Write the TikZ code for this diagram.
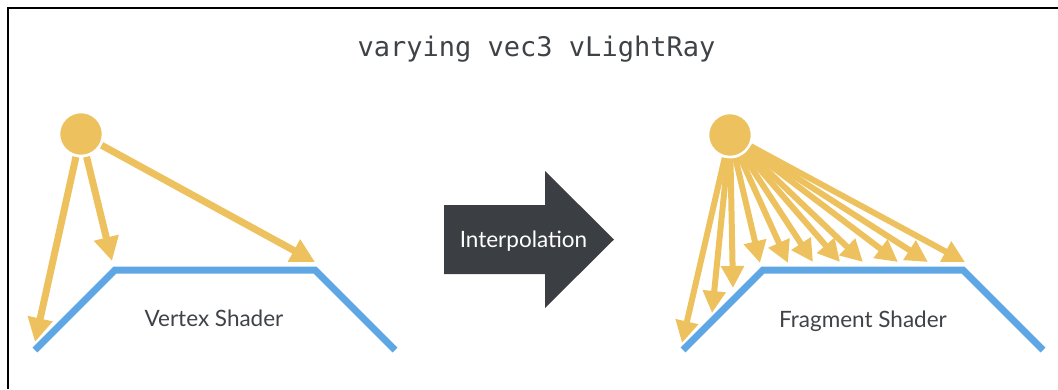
\documentclass[tikz,border=0pt]{standalone}
\usepackage{fontspec}
\setmainfont{Lato}
\setmonofont{DejaVu Sans Mono}
\usepackage{tikz}
\usetikzlibrary{arrows.meta}
\definecolor{sunyellow}{HTML}{EDC25E}
\definecolor{surfblue}{HTML}{5EA7E4}
\definecolor{darkslate}{HTML}{3B3F43}
\definecolor{textgray}{HTML}{3F4347}
\tikzset{
  sun/.style={
    circle, fill=sunyellow, draw=white, line width=2.5pt,
    minimum size=44pt, inner sep=0pt, outer sep=1.5pt,
  },
  ray/.style={-{Triangle[length=#1, width=#1]}, line width=7pt, color=sunyellow},
  ray/.default=24pt,
  surface/.style={line width=7pt, color=surfblue},
  lbl/.style={font=\fontsize{22.5}{27}\selectfont, text=textgray, anchor=base, inner sep=0pt},
  codelbl/.style={font=\ttfamily\fontsize{27}{32}\selectfont, text=textgray, anchor=base, inner sep=0pt},
  frame/.style={line width=2.5pt, color=black},
}
\begin{document}
\begin{tikzpicture}[x=1pt, y=-1pt]
  \useasboundingbox (0,0) rectangle (1058,389);

  % frame and title
  \draw[frame] (8,389) -- (8,8) -- (1058,8);
  \node[codelbl] (varname) at (536.5,56) {varying vec3 vLightRay};

  % vertex shader side
  \draw[surface] (35,350) -- (115,270) -- (315,270) -- (395,350);
  \node[sun] (sunL) at (81,134) {};
  \coordinate (vert1) at (35,342);
  \coordinate (vert2) at (112,261);
  \coordinate (vert3) at (315,262);
  \foreach \i in {1,2,3}
    \draw[ray] (sunL) -- (vert\i);
  \node[lbl] (vlabel) at (214,326) {Vertex Shader};

  % interpolation arrow
  \fill[darkslate] (444,205) -- (545,205) -- (545,171) -- (614,239.5)
    -- (545,308) -- (545,274) -- (444,274) -- cycle;
  \node[lbl, text=white] (interp) at (523.5,247) {Interpolation};

  % fragment shader side
  \draw[surface] (683,350) -- (763,270) -- (963,270) -- (1043,350);
  \node[sun] (sunR) at (730,135) {};
  \foreach \x/\y [count=\i] in {682/343, 712/313, 733/288, 760/263, 788/263,
      813/262, 840/262, 863/262, 898/262, 928/262, 965/262} {
    \coordinate (frag\i) at (\x,\y);
    \draw[ray=22pt, line width=6pt] (sunR) -- (frag\i);
  }
  \node[lbl] (flabel) at (863,327) {Fragment Shader};

\end{tikzpicture}
\end{document}
